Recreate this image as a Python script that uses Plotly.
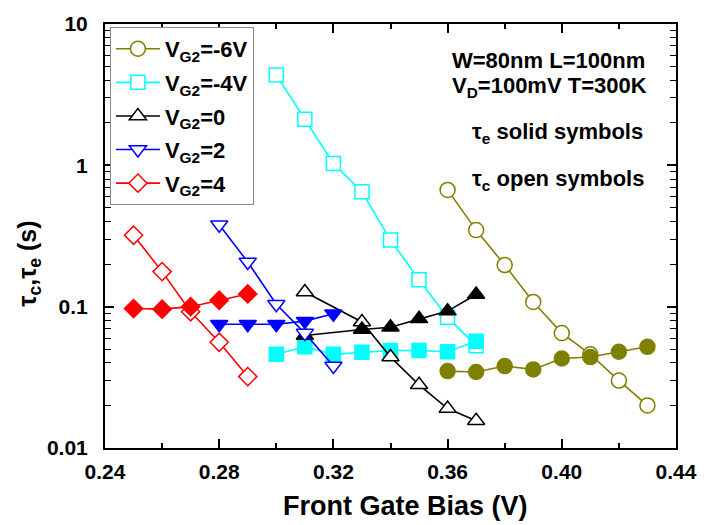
import plotly.graph_objects as go

# ---- data ----
x_m6 = [0.36, 0.37, 0.38, 0.39, 0.40, 0.41, 0.42, 0.43]
tc_m6 = [0.67, 0.348, 0.197, 0.108, 0.065, 0.046, 0.030, 0.020]
te_m6 = [0.035, 0.0345, 0.038, 0.036, 0.043, 0.044, 0.048, 0.052]

x_m4 = [0.30, 0.31, 0.32, 0.33, 0.34, 0.35, 0.36, 0.37]
tc_m4 = [4.35, 2.12, 1.03, 0.65, 0.296, 0.155, 0.084, 0.053]
te_m4 = [0.046, 0.052, 0.046, 0.0475, 0.049, 0.049, 0.048, 0.057]

x_0 = [0.31, 0.33, 0.34, 0.35, 0.36, 0.37]
tc_0 = [0.127, 0.078, 0.044, 0.028, 0.019, 0.0156]
te_0 = [0.0625, 0.069, 0.0715, 0.082, 0.093, 0.122]

x_2 = [0.28, 0.29, 0.30, 0.31, 0.32]
tc_2 = [0.38, 0.207, 0.104, 0.065, 0.038]
te_2 = [0.075, 0.075, 0.075, 0.079, 0.089]

x_4 = [0.25, 0.26, 0.27, 0.28, 0.29]
tc_4 = [0.32, 0.177, 0.092, 0.056, 0.032]
te_4 = [0.097, 0.096, 0.100, 0.111, 0.123]

series = [
    ("V<sub>G2</sub>=-6V", x_m6, tc_m6, te_m6, "#808000", "circle", 15),
    ("V<sub>G2</sub>=-4V", x_m4, tc_m4, te_m4, "#00FFFF", "square", 14),
    ("V<sub>G2</sub>=0", x_0, tc_0, te_0, "#000000", "triangle-up", 15),
    ("V<sub>G2</sub>=2", x_2, tc_2, te_2, "#0000FF", "triangle-down", 15),
    ("V<sub>G2</sub>=4", x_4, tc_4, te_4, "#FF0000", "diamond", 14),
]

x_ticks = [0.24, 0.28, 0.32, 0.36, 0.40, 0.44]
x_ticklabels = ["0.24", "0.28", "0.32", "0.36", "0.40", "0.44"]
y_ticks = [0.01, 0.1, 1, 10]
y_ticklabels = ["0.01", "0.1", "1", "10"]

FONT = "Liberation Sans, Arial, sans-serif"

fig = go.Figure()
for i, (name, xs, tc, te, col, sym, sz) in enumerate(series):
    fig.add_trace(go.Scatter(
        x=xs, y=tc, mode="lines+markers", name=name,
        legendgroup=f"g{i}", showlegend=True,
        line=dict(color=col, width=1.6),
        marker=dict(symbol=sym, size=sz, color="white",
                    line=dict(color=col, width=1.5)),
    ))
    fig.add_trace(go.Scatter(
        x=xs, y=te, mode="lines+markers", name=name + " te",
        legendgroup=f"g{i}", showlegend=False,
        line=dict(color=col, width=1.6),
        marker=dict(symbol=sym, size=sz, color=col,
                    line=dict(color=col, width=1.5)),
    ))

L, R, T, B = 105, 24, 16, 77
W, H = 709, 525
pw, ph = W - L - R, H - T - B


def px(xp):
    return (xp - L) / pw


def py(yp):
    return (H - B - yp) / ph


fig.update_layout(
    width=W, height=H,
    margin=dict(l=L, r=R, t=T, b=B),
    plot_bgcolor="white", paper_bgcolor="white",
    font=dict(family=FONT, color="black", weight="bold"),
    showlegend=True,
    legend=dict(
        x=px(110), y=py(19), xanchor="left", yanchor="top",
        bordercolor="#888888", borderwidth=1, bgcolor="white",
        font=dict(family=FONT, size=22, color="black", weight="bold"),
        tracegroupgap=2, itemsizing="trace", itemwidth=44,
    ),
    xaxis=dict(
        range=[0.24, 0.44], tickvals=x_ticks, ticktext=x_ticklabels,
        ticks="inside", ticklen=9, tickwidth=1.5, tickcolor="black",
        showline=True, linecolor="black", linewidth=2, mirror="ticks",
        showgrid=False, zeroline=False,
        tickfont=dict(family=FONT, size=21, weight="bold"),
        ticklabelstandoff=4,
        minor=dict(ticks="inside", ticklen=5, tickwidth=1.5, tickcolor="black",
                   dtick=0.02, tick0=0.24, showgrid=False),
    ),
    yaxis=dict(
        type="log", range=[-2, 1], tickvals=y_ticks, ticktext=y_ticklabels,
        ticks="inside", ticklen=9, tickwidth=1.5, tickcolor="black",
        showline=True, linecolor="black", linewidth=2, mirror="ticks",
        showgrid=False, zeroline=False,
        tickfont=dict(family=FONT, size=21, weight="bold"),
        ticklabelstandoff=11,
        minor=dict(ticks="inside", ticklen=6, tickwidth=1.2, tickcolor="black",
                   dtick="D1", showgrid=False),
    ),
)

ann_font = dict(family=FONT, size=22, color="black", weight="bold")
fig.add_annotation(xref="paper", yref="paper", x=px(455), y=py(53),
                   xanchor="left", yanchor="middle", showarrow=False,
                   text="W=80nm L=100nm", font=ann_font)
fig.add_annotation(xref="paper", yref="paper", x=px(455), y=py(80),
                   xanchor="left", yanchor="middle", showarrow=False,
                   text="V<sub>D</sub>=100mV T=300K", font=ann_font)
fig.add_annotation(xref="paper", yref="paper", x=px(476), y=py(127),
                   xanchor="left", yanchor="middle", showarrow=False,
                   text="τ<sub>e</sub> solid symbols", font=ann_font)
fig.add_annotation(xref="paper", yref="paper", x=px(476), y=py(175),
                   xanchor="left", yanchor="middle", showarrow=False,
                   text="τ<sub>c</sub> open symbols", font=ann_font)
fig.add_annotation(xref="paper", yref="paper", x=px(410), y=py(507),
                   xanchor="center", yanchor="middle", showarrow=False,
                   text="Front Gate Bias (V)",
                   font=dict(family=FONT, size=27, color="black", weight="bold"))
fig.add_annotation(xref="paper", yref="paper", x=px(28), y=py(260),
                   xanchor="center", yanchor="middle", showarrow=False,
                   textangle=-90,
                   text="τ<sub>c</sub>,τ<sub>e</sub> (s)",
                   font=dict(family=FONT, size=25, color="black", weight="bold"))

fig.write_html("out.html")
